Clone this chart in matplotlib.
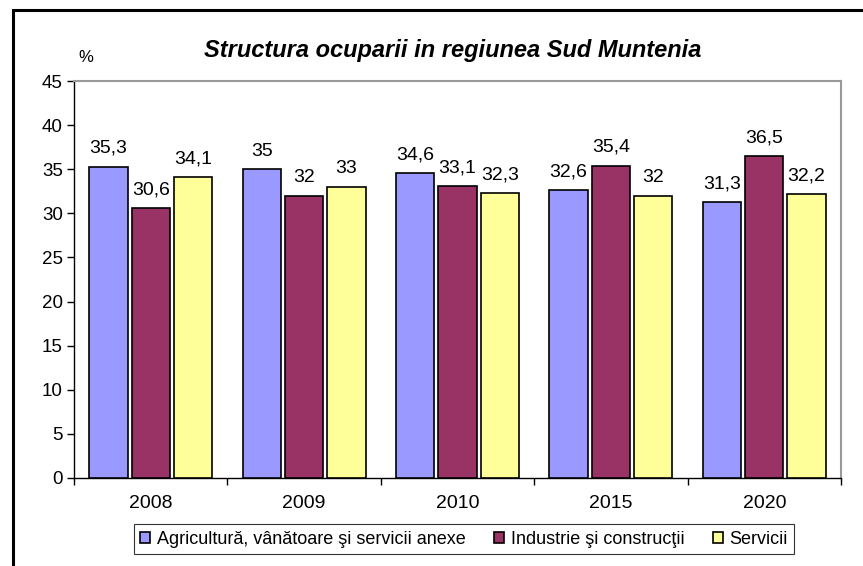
import numpy as np
import matplotlib
matplotlib.use("Agg")
import matplotlib.pyplot as plt
from matplotlib.patches import Rectangle

plt.rcParams["font.family"] = ["Liberation Sans", "DejaVu Sans"]

years = ["2008", "2009", "2010", "2015", "2020"]
agricultura = [35.3, 35.0, 34.6, 32.6, 31.3]
industrie = [30.6, 32.0, 33.1, 35.4, 36.5]
servicii = [34.1, 33.0, 32.3, 32.0, 32.2]

series = [
    ("Agricultură, vânătoare şi servicii anexe", agricultura, "#9999FF"),
    ("Industrie şi construcţii", industrie, "#993366"),
    ("Servicii", servicii, "#FFFF99"),
]


def fmt(v):
    s = f"{v:.1f}".replace(".", ",")
    return s[:-2] if s.endswith(",0") else s


fig = plt.figure(figsize=(8.63, 5.66), dpi=100)
ax = fig.add_axes([74 / 863, 88 / 566, 767 / 863, 397 / 566])

# outer chart frame (runs off the right/bottom edge like the original)
fig.patches.append(Rectangle((13 / 863, -0.05), 1.0, (566 - 10) / 566 + 0.05,
                             transform=fig.transFigure, fill=False,
                             edgecolor="black", linewidth=2.2))

x = np.arange(len(years))
width = 0.25
step = 0.276
for i, (label, vals, color) in enumerate(series):
    pos = x + (i - 1) * step
    ax.bar(pos, vals, width, color=color, edgecolor="black", linewidth=1.2,
           label=label, zorder=3)
    for px, v in zip(pos, vals):
        ax.text(px, v + 1.1, fmt(v), ha="center", va="bottom", fontsize=14)

ax.set_xlim(-0.5, len(years) - 0.5)
ax.set_ylim(0, 45)
ax.set_yticks(range(0, 46, 5))
ax.tick_params(axis="y", labelsize=13.5, length=5, width=1, direction="out", pad=3)

ax.set_xticks(x)
ax.set_xticklabels(years, fontsize=14)
ax.tick_params(axis="x", length=0, pad=12)
ax.set_xticks(np.arange(-0.5, len(years)), minor=True)
ax.tick_params(axis="x", which="minor", length=5, width=1, direction="out")

for side in ("top", "right"):
    ax.spines[side].set_color("#999999")
    ax.spines[side].set_linewidth(1.5)
for side in ("left", "bottom"):
    ax.spines[side].set_color("black")
    ax.spines[side].set_linewidth(1.0)

fig.text(453 / 863, 1 - 50 / 566, "Structura ocuparii in regiunea Sud Muntenia",
         ha="center", va="center", fontsize=17, fontweight="bold", style="italic")
fig.text(86 / 863, 1 - 57 / 566, "%", ha="center", va="center", fontsize=12)

leg = fig.legend(loc="center", bbox_to_anchor=(464 / 863, 1 - 539 / 566), ncol=3,
                 fontsize=13, frameon=True, fancybox=False, edgecolor="black",
                 handlelength=0.55, handleheight=0.55, handletextpad=0.35,
                 columnspacing=1.6, borderpad=0.35)
leg.get_frame().set_linewidth(0.8)

fig.savefig("out.png", dpi=100)
